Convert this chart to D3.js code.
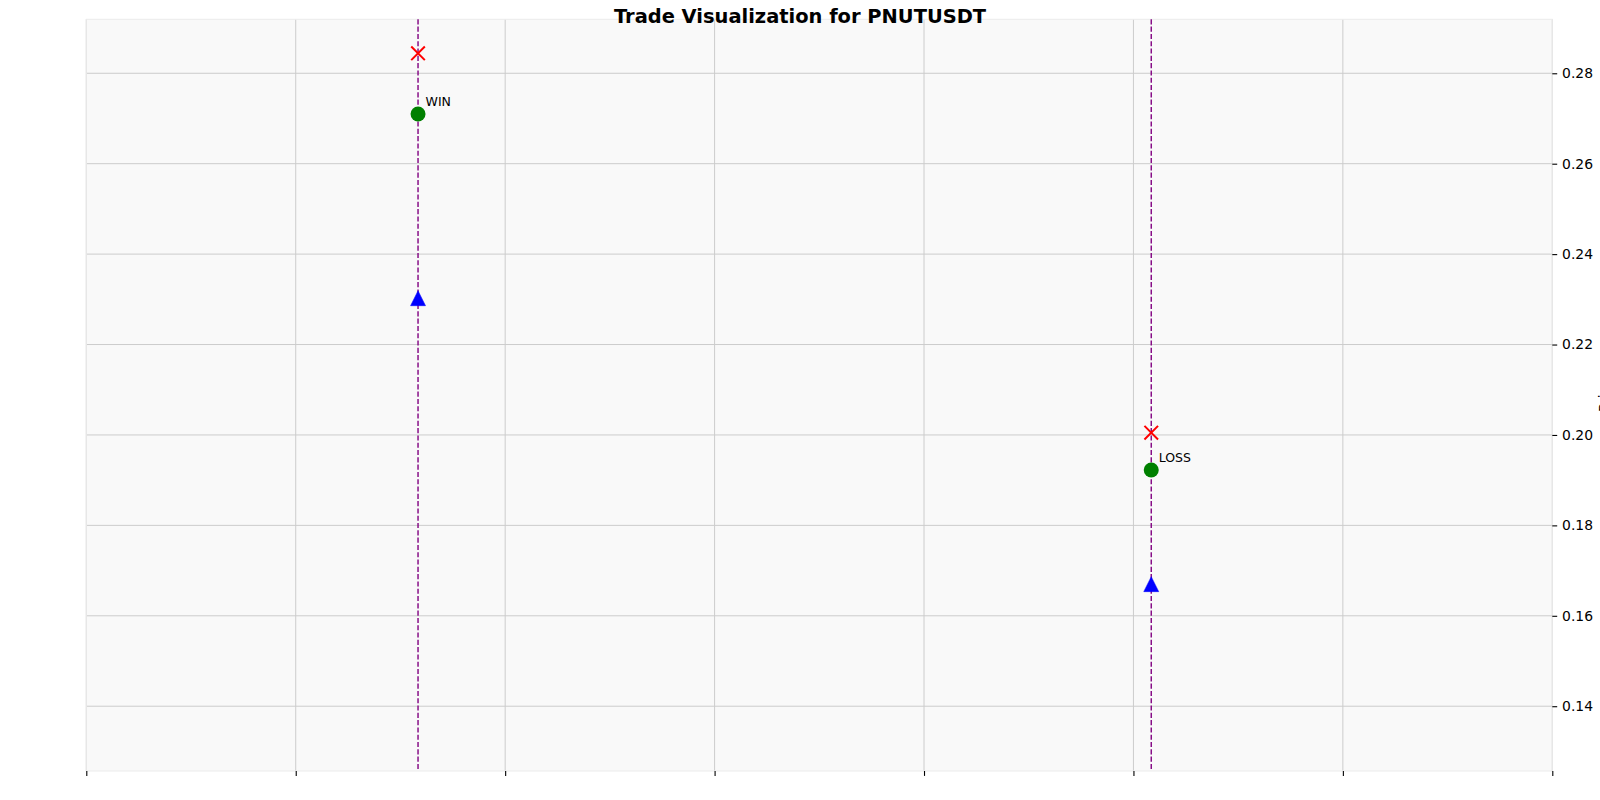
<!DOCTYPE html>
<html>
<head>
<meta charset="utf-8">
<script src="https://cdn.jsdelivr.net/npm/d3@7"></script>
<style>
  html, body { margin: 0; padding: 0; background: #ffffff; }
  svg { display: block; }
  text { font-family: "DejaVu Sans", sans-serif; }
</style>
</head>
<body>
<svg id="chart" width="1600" height="800"></svg>
<script>
// ---- data ----
const chartTitle = "Trade Visualization for PNUTUSDT";
const yLabel = "Price";
const tradeX = [1.584, 5.085];           // trade time positions (x-axis units)
const tradeResult = ["WIN", "LOSS"];
const entryPrice = [0.2710, 0.19225];    // green circles
const exitPrice = [0.28442, 0.2005];     // red crosses
const stopPrice = [0.23025, 0.1670];     // blue triangles
const xTicks = [0, 1, 2, 3, 4, 5, 6, 7];
const xDomain = [0, 7];
const yTicks = [0.14, 0.16, 0.18, 0.20, 0.22, 0.24, 0.26, 0.28];
const yDomain = [0.12567, 0.29194];

// ---- layout ----
const svg = d3.select("#chart");
const L = 86.3, R = 1552.3, T = 19.3, B = 771;

const x = d3.scaleLinear().domain(xDomain).range([L, R]);
const y = d3.scaleLinear().domain(yDomain).range([B, T]);

// background
svg.append("rect").attr("x", L).attr("y", T).attr("width", R - L).attr("height", B - T)
  .attr("fill", "#f9f9f9");

// grid
const grid = svg.append("g");
grid.selectAll(".gx").data(xTicks).enter().append("line")
  .attr("x1", d => x(d)).attr("x2", d => x(d)).attr("y1", T).attr("y2", B)
  .attr("stroke", "#cccccc").attr("stroke-width", 1);
grid.selectAll(".gy").data(yTicks).enter().append("line")
  .attr("x1", L).attr("x2", R).attr("y1", d => y(d)).attr("y2", d => y(d))
  .attr("stroke", "#cccccc").attr("stroke-width", 1);

// spines
svg.append("rect").attr("x", L).attr("y", T).attr("width", R - L).attr("height", B - T)
  .attr("fill", "none").attr("stroke", "#ebebeb").attr("stroke-width", 1);

// axes
const xAxis = d3.axisBottom(x).tickValues(xTicks).tickFormat("").tickSize(4.9).tickSizeOuter(0);
const gx = svg.append("g").attr("transform", `translate(0,${B})`).call(xAxis);
gx.select(".domain").remove();
gx.selectAll(".tick line").attr("stroke", "#000").attr("stroke-width", 1.1);

const yAxis = d3.axisRight(y).tickValues(yTicks).tickFormat(d3.format(".2f")).tickSize(4.9).tickPadding(4.9).tickSizeOuter(0);
const gy = svg.append("g").attr("transform", `translate(${R},0)`).call(yAxis);
gy.select(".domain").remove();
gy.selectAll(".tick line").attr("stroke", "#000").attr("stroke-width", 1.1);
gy.selectAll(".tick text").attr("font-family", "DejaVu Sans").attr("font-size", 13.9)
  .attr("fill", "#000");

// y label (mostly off-canvas on the right)
svg.append("text")
  .attr("transform", `translate(1608.5,${(T + B) / 2}) rotate(-90)`)
  .attr("text-anchor", "middle").attr("font-size", 13.9).attr("fill", "#000")
  .text(yLabel);

// vertical dashed lines
const trades = tradeX.map((t, i) => ({ t, r: tradeResult[i], e: entryPrice[i], x: exitPrice[i], s: stopPrice[i] }));
svg.append("g").selectAll("line").data(trades).enter().append("line")
  .attr("x1", d => x(d.t)).attr("x2", d => x(d.t)).attr("y1", T).attr("y2", B)
  .attr("stroke", "#800080").attr("stroke-width", 1.4).attr("stroke-dasharray", "5.1,2.2");

// blue triangles
const tri = d3.symbol().type(d3.symbolTriangle).size(105);
svg.append("g").selectAll("path").data(trades).enter().append("path")
  .attr("d", "M0,-7.5L7.5,7.5L-7.5,7.5Z")
  .attr("transform", d => `translate(${x(d.t)},${y(d.s)})`)
  .attr("fill", "#0000ff").attr("stroke", "#0000ff").attr("stroke-width", 0.5);

// green circles
svg.append("g").selectAll("circle").data(trades).enter().append("circle")
  .attr("cx", d => x(d.t)).attr("cy", d => y(d.e)).attr("r", 7.5)
  .attr("fill", "#008000");

// red crosses
const cross = svg.append("g");
trades.forEach(d => {
  const cx = x(d.t), cy = y(d.x), h = 6.8;
  cross.append("path")
    .attr("d", `M${cx - h},${cy - h}L${cx + h},${cy + h}M${cx - h},${cy + h}L${cx + h},${cy - h}`)
    .attr("stroke", "#ff0000").attr("stroke-width", 2).attr("fill", "none");
});

// labels
svg.append("g").selectAll("text").data(trades).enter().append("text")
  .attr("x", d => x(d.t) + 7.5).attr("y", d => y(d.e) - 7.6)
  .attr("font-size", 12.5).attr("fill", "#000")
  .text(d => d.r);

// title
svg.append("text").attr("x", 800).attr("y", 22.7).attr("text-anchor", "middle")
  .attr("font-size", 19.44).attr("font-weight", "bold").attr("fill", "#000")
  .text(chartTitle);
</script>
</body>
</html>
